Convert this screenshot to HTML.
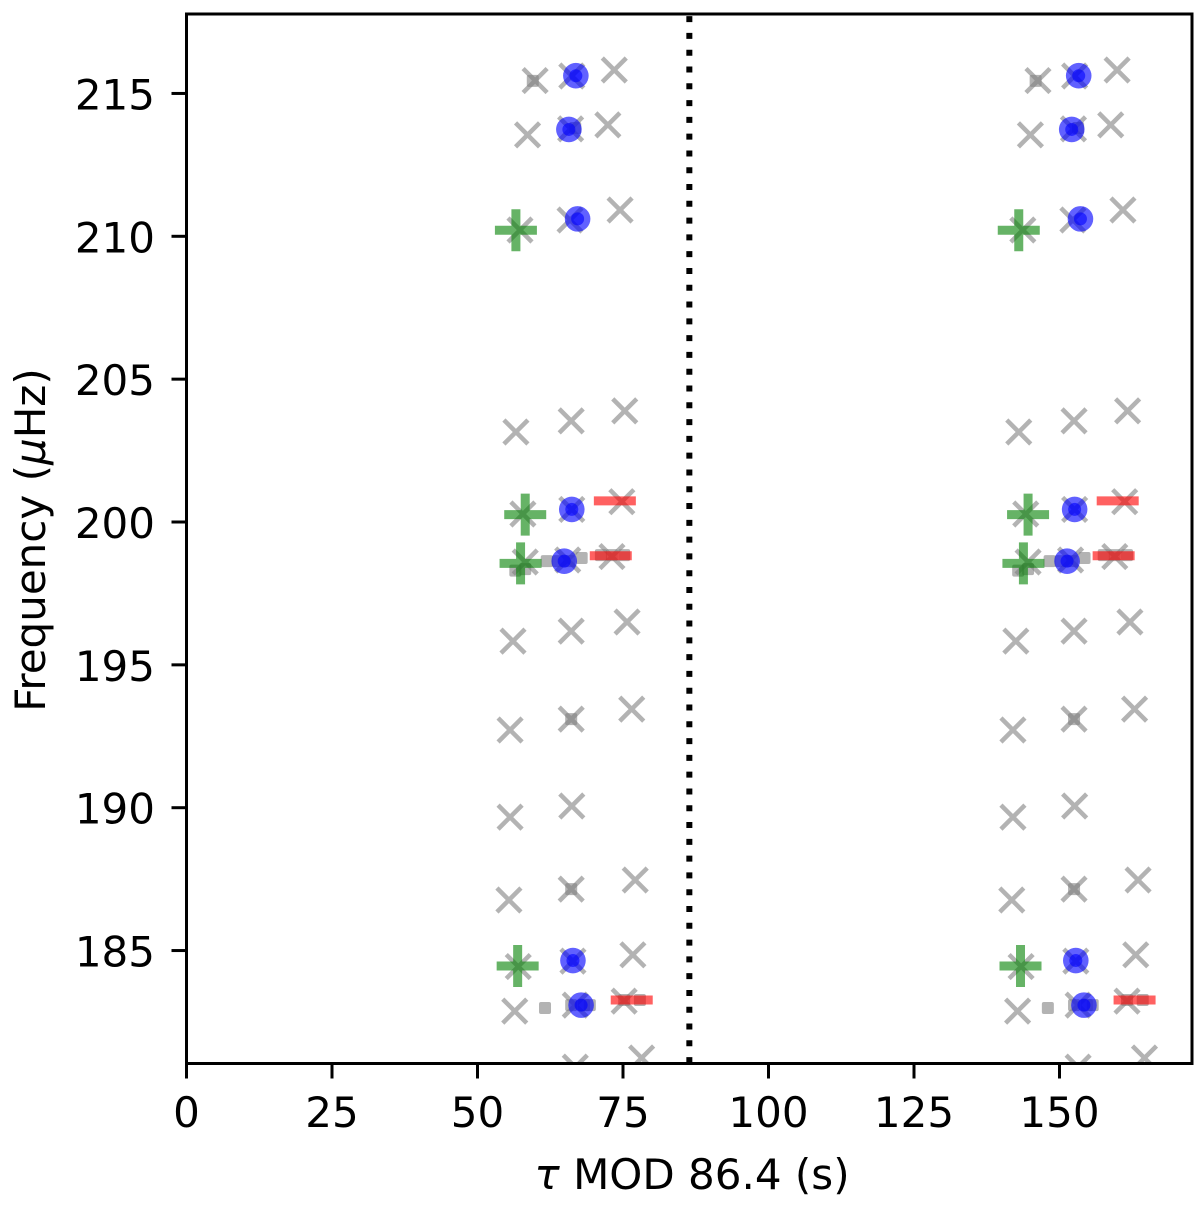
<!DOCTYPE html>
<html>
<head>
<meta charset="utf-8">
<title>Frequency vs tau mod 86.4</title>
<style>
html,body{margin:0;padding:0;background:#fff;}
svg{display:block;}
text{font-family:"DejaVu Sans",sans-serif;fill:#000;}
</style>
</head>
<body>
<svg id="chart" xmlns="http://www.w3.org/2000/svg" width="1200" height="1208" viewBox="0 0 1200 1208">
  <defs><clipPath id="plot-clip"><rect x="186.5" y="14" width="1005.5" height="1049.5"/></clipPath></defs>
  <rect x="0" y="0" width="1200" height="1208" fill="#fff"/>
  <g id="marks" clip-path="url(#plot-clip)"></g>
  <rect x="186.5" y="14" width="1005.5" height="1049.5" fill="none" stroke="#000" stroke-width="3"/>
  <g id="axes"></g>
  <text x="692" y="1189" font-size="42" text-anchor="middle"><tspan font-style="italic">τ</tspan> MOD 86.4 (s)</text>
  <text transform="translate(45 540) rotate(-90)" font-size="42" text-anchor="middle">Frequency (<tspan font-style="italic">μ</tspan>Hz)</text>
</svg>
<script>
const modulus = 86.4;
const xTicks = [0, 25, 50, 75, 100, 125, 150];
const yTicks = [185, 190, 195, 200, 205, 210, 215];

const crossTau = [59.9,66.2,73.5,58.6,66.0,72.4,57.3,65.9,74.5,56.6,66.1,75.3,57.8,66.2,74.8,58.2,65.5,73.1,56.1,66.1,75.7,55.6,66.1,76.5,55.6,66.2,55.4,66.1,77.1,57.0,66.4,76.7,56.4,66.8,75.2,66.8,78.2];
const crossFreq = [215.45,215.61,215.82,213.55,213.76,213.90,210.22,210.57,210.92,203.15,203.54,203.89,200.28,200.44,200.71,198.60,198.67,198.79,195.83,196.18,196.50,192.72,193.10,193.45,189.67,190.06,186.77,187.15,187.47,184.44,184.63,184.85,182.88,183.09,183.23,180.92,181.24];

const dotTau = [59.5,66.8,66.1,66.1,61.6,66.1,68.3,69.3,75.2,77.9,56.5,58.2,61.9,63.8,65.8,67.9,71.2,73.1,75.2];
const dotFreq = [215.44,213.79,193.10,187.15,182.99,183.09,183.09,183.09,183.27,183.27,198.30,198.35,198.63,198.63,198.63,198.74,198.84,198.84,198.84];

const plusTau = [56.6,58.2,57.4,56.9];
const plusFreq = [210.21,200.26,198.55,184.46];

const circleTau = [66.9,65.7,67.2,66.2,64.9,66.4,67.8];
const circleFreq = [215.62,213.74,210.61,200.44,198.63,184.65,183.09];

const minusTau = [73.6,72.9,76.5];
const minusFreq = [200.74,198.82,183.27];

const NS = 'http://www.w3.org/2000/svg';
function xScale(v){ return 186.5 + v * 5.82; }
function yScale(v){ return 522 - (v - 200) * 28.57; }
function make(tag, attrs, parent){
  const el = document.createElementNS(NS, tag);
  for (const k in attrs) el.setAttribute(k, attrs[k]);
  parent.appendChild(el);
  return el;
}
const marks = document.getElementById('marks');
const axes = document.getElementById('axes');

function drawDots(offset){
  dotTau.forEach(function(t, i){
    const x = xScale(t + offset), y = yScale(dotFreq[i]);
    const el = make('rect', {x: x - 6, y: y - 6, width: 12, height: 12, rx: 2, fill: '#808080', 'fill-opacity': 0.6}, marks);
    
    
  });
}
function drawCrosses(offset){
  crossTau.forEach(function(t, i){
    const x = xScale(t + offset), y = yScale(crossFreq[i]), r = 12;
    const el = make('path', {d: 'M' + (x - r) + ' ' + (y - r) + 'L' + (x + r) + ' ' + (y + r) + 'M' + (x - r) + ' ' + (y + r) + 'L' + (x + r) + ' ' + (y - r), stroke: '#808080', 'stroke-opacity': 0.6, 'stroke-width': 4.5, fill: 'none'}, marks);
    
    
  });
}
function drawPlus(offset){
  plusTau.forEach(function(t, i){
    const x = xScale(t + offset), y = yScale(plusFreq[i]), r = 21;
    const el = make('path', {d: 'M' + (x - r) + ' ' + y + 'H' + (x + r) + 'M' + x + ' ' + (y - r) + 'V' + (y + r), stroke: '#008000', 'stroke-opacity': 0.6, 'stroke-width': 9, fill: 'none'}, marks);
    
    
  });
}
function drawCircles(offset){
  circleTau.forEach(function(t, i){
    const x = xScale(t + offset), y = yScale(circleFreq[i]);
    const outer = make('circle', {cx: x, cy: y, r: 12.8, fill: '#0000ff', 'fill-opacity': 0.62}, marks);
    
    
    const inner = make('circle', {cx: x, cy: y, r: 6.5, fill: '#0000ff', 'fill-opacity': 0.6}, marks);
    
    
  });
}
function drawMinus(offset){
  minusTau.forEach(function(t, i){
    const x = xScale(t + offset), y = yScale(minusFreq[i]), r = 21;
    const el = make('path', {d: 'M' + (x - r) + ' ' + y + 'H' + (x + r), stroke: '#ff0000', 'stroke-opacity': 0.62, 'stroke-width': 9, fill: 'none'}, marks);
    
    
  });
}
[0, modulus].forEach(function(offset){
  drawDots(offset);
  drawCrosses(offset);
  drawPlus(offset);
  drawCircles(offset);
  drawMinus(offset);
});

const divider = make('line', {x1: xScale(modulus), x2: xScale(modulus), y1: 14, y2: 1063.5, stroke: '#000', 'stroke-width': 6, 'stroke-dasharray': '6 10.79', 'stroke-dashoffset': -2.12}, marks);



xTicks.forEach(function(v){
  const x = xScale(v);
  const tick = make('line', {x1: x, x2: x, y1: 1063.5, y2: 1078.5, stroke: '#000', 'stroke-width': 3}, axes);
  
  
  const label = make('text', {x: x, y: 1127, 'font-size': 42, 'text-anchor': 'middle'}, axes);
  
  
  label.textContent = v;
});
yTicks.forEach(function(v){
  const y = yScale(v);
  const tick = make('line', {x1: 171.5, x2: 186.5, y1: y, y2: y, stroke: '#000', 'stroke-width': 3}, axes);
  
  
  const label = make('text', {x: 155, y: y + 16, 'font-size': 42, 'text-anchor': 'end'}, axes);
  
  
  label.textContent = v;
});
</script>
</body>
</html>
